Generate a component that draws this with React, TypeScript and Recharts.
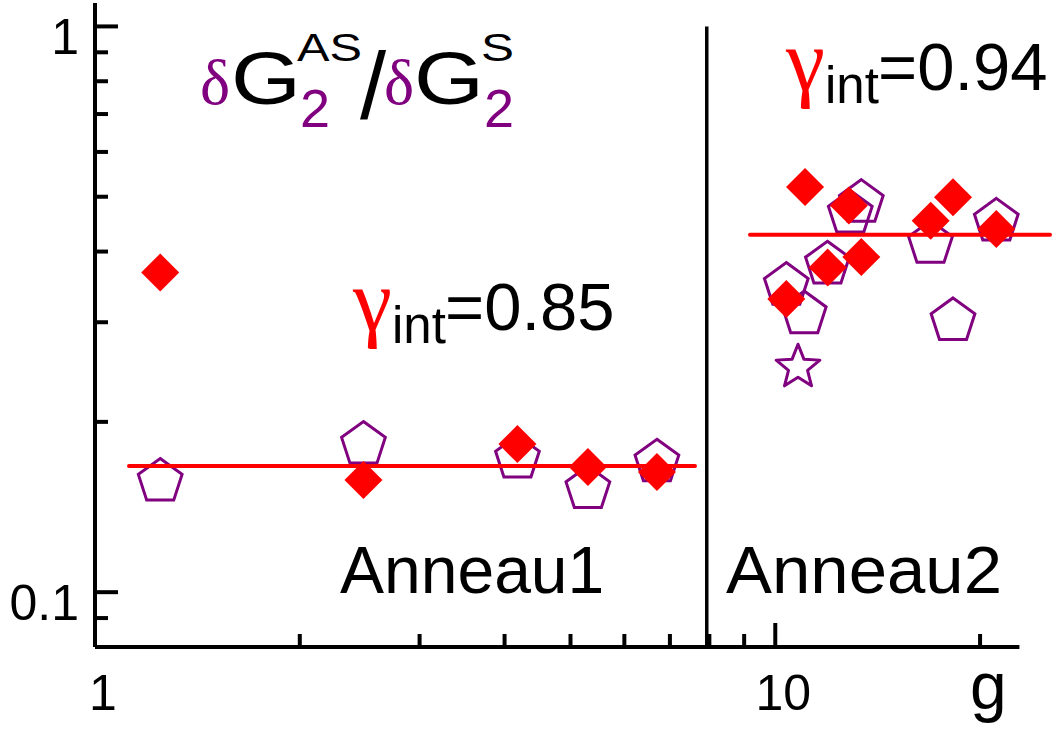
import React from 'react';
import { ComposedChart, Scatter, XAxis, YAxis, ReferenceLine } from 'recharts';

// Anneau 1 (g < 8)
const ring1Pentagons = [
  { x: 1.247, y: 0.1569 },
  { x: 2.481, y: 0.1824 },
  { x: 4.178, y: 0.1724 },
  { x: 5.303, y: 0.1522 },
  { x: 6.699, y: 0.1697 },
];
const ring1Diamonds = [
  { x: 1.247, y: 0.3673 },
  { x: 2.481, y: 0.1579 },
  { x: 4.178, y: 0.1827 },
  { x: 5.303, y: 0.1665 },
  { x: 6.699, y: 0.1631 },
];

// Anneau 2 (g > 8)
const ring2Pentagons = [
  { x: 13.38, y: 0.4882 },
  { x: 12.89, y: 0.4671 },
  { x: 11.93, y: 0.3798 },
  { x: 10.38, y: 0.3483 },
  { x: 11.03, y: 0.3102 },
  { x: 16.91, y: 0.4129 },
  { x: 18.25, y: 0.3016 },
  { x: 21.13, y: 0.4523 },
];
const ring2Stars = [{ x: 10.8, y: 0.2498 }];
const ring2Diamonds = [
  { x: 11.06, y: 0.5202 },
  { x: 12.83, y: 0.4824 },
  { x: 13.38, y: 0.3912 },
  { x: 11.94, y: 0.3747 },
  { x: 10.38, y: 0.3298 },
  { x: 18.25, y: 0.4988 },
  { x: 16.92, y: 0.4536 },
  { x: 21.13, y: 0.4385 },
];

// horizontal fits and ring separator
const fit1 = [{ x: 1.122, y: 0.1671 }, { x: 7.62, y: 0.1671 }];
const fit2 = [{ x: 9.18, y: 0.4285 }, { x: 25.34, y: 0.4285 }];
const separator = [{ x: 7.93, y: 1.0 }, { x: 7.93, y: 0.08 }];

const xTicks = [1, 2, 3, 4, 5, 6, 7, 8, 9, 10, 20];
const xLabelled = [1, 10];
const yTicks = [0.09, 0.1, 0.2, 0.3, 0.4, 0.5, 0.6, 0.7, 0.8, 0.9, 1];
const yLabelled = [0.1, 1];

const SANS = '"Liberation Sans", Arial, sans-serif';
const SERIF = '"Liberation Serif", "Times New Roman", serif';
const PURPLE = '#800080';
const RED = '#ff0000';

const near = (a: number, list: number[]) => list.some((b) => Math.abs(a - b) < 1e-6);

const XTick = (props: any) => {
  const { x, y, payload } = props;
  const v = payload.value;
  const major = near(v, xLabelled);
  return (
    <g>
      <line x1={x} y1={y} x2={x} y2={y - (major ? 24 : 13)} stroke="#000" strokeWidth={4} />
      {major && (
        <text x={x + 8} y={y + 63} textAnchor="middle" fontSize={50} fontFamily={SANS} fill="#000">
          {String(v)}
        </text>
      )}
    </g>
  );
};

const YTick = (props: any) => {
  const { x, y, payload } = props;
  const v = payload.value;
  const major = near(v, yLabelled);
  return (
    <g>
      <line x1={x} y1={y} x2={x + (major ? 23 : 13)} y2={y} stroke="#000" strokeWidth={4} />
      {major && (
        <text x={x - 16} y={y + 28} textAnchor="end" fontSize={50} fontFamily={SANS} fill="#000">
          {String(v)}
        </text>
      )}
    </g>
  );
};

const polyPoints = (cx: number, cy: number, n: number, r: number, inner?: number) => {
  const pts: string[] = [];
  const count = inner ? n * 2 : n;
  for (let i = 0; i < count; i++) {
    const rr = inner && i % 2 === 1 ? inner : r;
    const a = -Math.PI / 2 + (i * 2 * Math.PI) / count;
    pts.push(`${cx + rr * Math.cos(a)},${cy + rr * Math.sin(a)}`);
  }
  return pts.join(' ');
};

const Pentagon = (p: any) => (
  <polygon points={polyPoints(p.cx, p.cy, 5, 23)} fill="none" stroke={PURPLE} strokeWidth={3} />
);
const Star = (p: any) => (
  <polygon points={polyPoints(p.cx, p.cy, 5, 23, 10)} fill="none" stroke={PURPLE} strokeWidth={3} strokeLinejoin="round" />
);
const Diamond = (p: any) => (
  <polygon points={polyPoints(p.cx, p.cy, 4, 19)} fill={RED} stroke="none" />
);
const NoMark = () => <g />;

const Gamma = ({ x, y, value }: { x: number; y: number; value: string }) => (
  <g>
    <text x={x} y={y} fontSize={88} fontFamily={SERIF} fill={RED}>γ</text>
    <text x={x + 39} y={y + 13} fontSize={51} fontFamily={SANS} fill="#000">int</text>
    <text x={x + 92} y={y} fontSize={67} fontFamily={SANS} fill="#000">={value}</text>
  </g>
);

export default function App() {
  return (
    <div style={{ position: 'absolute', left: 0, top: 0, width: 1053, height: 733, background: '#fff' }}>
      <ComposedChart width={1053} height={733} margin={{ top: 3, right: 0, bottom: 0, left: 0 }}>
        <XAxis
          type="number"
          dataKey="x"
          scale="log"
          domain={[1, 25.6]}
          allowDataOverflow
          ticks={xTicks}
          interval={0}
          height={86}
          axisLine={false}
          tickLine={false}
          tickSize={0}
          tickMargin={0}
          tick={(p: any) => <XTick {...p} />}
        />
        <YAxis
          type="number"
          dataKey="y"
          scale="log"
          domain={[0.08, 1.1]}
          allowDataOverflow
          ticks={yTicks}
          interval={0}
          width={95}
          axisLine={{ stroke: '#000', strokeWidth: 4 }}
          tickLine={false}
          tickSize={0}
          tickMargin={0}
          tick={(p: any) => <YTick {...p} />}
        />
        <ReferenceLine
          segment={[{ x: 1, y: 0.08 }, { x: 22.85, y: 0.08 }]}
          stroke="#000"
          strokeWidth={4}
          ifOverflow="visible"
        />
        <Scatter data={separator} line={{ stroke: '#000', strokeWidth: 3.5 }} shape={NoMark} isAnimationActive={false} />
        <Scatter data={ring1Pentagons} shape={Pentagon} isAnimationActive={false} />
        <Scatter data={ring2Pentagons} shape={Pentagon} isAnimationActive={false} />
        <Scatter data={ring2Stars} shape={Star} isAnimationActive={false} />
        <Scatter data={fit1} line={{ stroke: RED, strokeWidth: 4, strokeLinecap: 'round' }} shape={NoMark} isAnimationActive={false} />
        <Scatter data={fit2} line={{ stroke: RED, strokeWidth: 4, strokeLinecap: 'round' }} shape={NoMark} isAnimationActive={false} />
        <Scatter data={ring1Diamonds} shape={Diamond} isAnimationActive={false} />
        <Scatter data={ring2Diamonds} shape={Diamond} isAnimationActive={false} />
      </ComposedChart>
      <svg width={1053} height={733} style={{ position: 'absolute', left: 0, top: 0, pointerEvents: 'none' }}>
        {/* title */}
        <text x={200} y={104} fontSize={64} fontFamily={SERIF} fill={PURPLE}>δ</text>
        <text x={231} y={104} fontSize={74} fontFamily={SANS} fill="#000" textLength={70} lengthAdjust="spacingAndGlyphs">G</text>
        <text x={300} y={127} fontSize={54} fontFamily={SANS} fill={PURPLE}>2</text>
        <text x={297} y={61} fontSize={38} fontFamily={SANS} fill="#000" textLength={65} lengthAdjust="spacingAndGlyphs">AS</text>
        <text x={360} y={119} fontSize={94} fontFamily={SANS} fill="#000">/</text>
        <text x={384} y={104} fontSize={64} fontFamily={SERIF} fill={PURPLE}>δ</text>
        <text x={414} y={104} fontSize={74} fontFamily={SANS} fill="#000" textLength={70} lengthAdjust="spacingAndGlyphs">G</text>
        <text x={481} y={61} fontSize={38} fontFamily={SANS} fill="#000" textLength={33} lengthAdjust="spacingAndGlyphs">S</text>
        <text x={484} y={127} fontSize={54} fontFamily={SANS} fill={PURPLE}>2</text>

        <Gamma x={786} y={90} value="0.94" />
        <Gamma x={353} y={330} value="0.85" />

        <text x={340} y={593} fontSize={66} fontFamily={SANS} fill="#000">Anneau1</text>
        <text x={726} y={593} fontSize={66} fontFamily={SANS} fill="#000" textLength={276} lengthAdjust="spacingAndGlyphs">Anneau2</text>
        <text x={970} y={709} fontSize={66} fontFamily={SANS} fill="#000">g</text>
      </svg>
    </div>
  );
}
